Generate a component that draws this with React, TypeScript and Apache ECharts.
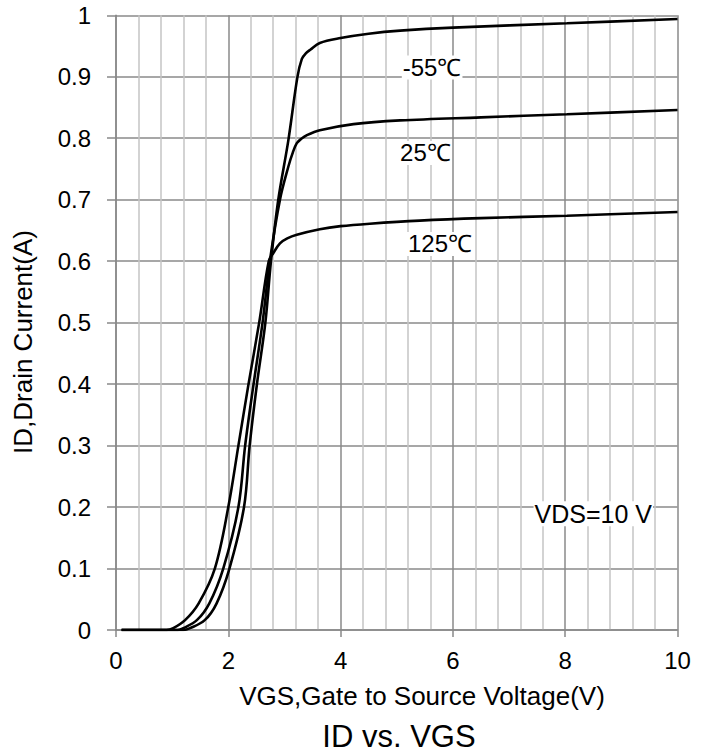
import { useEffect, useRef } from "react";
import * as echarts from "echarts";

// -55°C curve
const vgsM55 = [0.1, 1.2, 1.32, 1.58, 1.79, 2.02, 2.28, 2.38, 2.51, 2.66, 2.76, 2.89, 3.07, 3.23, 3.31, 3.38, 3.46, 3.63, 4.0, 4.5, 5.06, 6.0, 8.03, 10];
const idM55 = [0, 0, 0.003, 0.016, 0.043, 0.1, 0.2, 0.3, 0.4, 0.5, 0.6, 0.7, 0.797, 0.899, 0.929, 0.938, 0.944, 0.955, 0.963, 0.97, 0.975, 0.98, 0.987, 0.994];
// 25°C curve
const vgs25 = [0.1, 1.1, 1.2, 1.44, 1.66, 1.91, 2.18, 2.3, 2.45, 2.61, 2.74, 2.92, 3.07, 3.15, 3.22, 3.3, 3.4, 3.63, 4.23, 5.06, 6.5, 8.03, 10];
const id25 = [0, 0, 0.003, 0.016, 0.043, 0.1, 0.2, 0.3, 0.4, 0.5, 0.6, 0.7, 0.754, 0.777, 0.792, 0.799, 0.805, 0.813, 0.823, 0.829, 0.834, 0.839, 0.846];
// 125°C curve
const vgs125 = [0.1, 0.9, 1.02, 1.23, 1.47, 1.76, 2.0, 2.18, 2.36, 2.55, 2.72, 2.8, 2.92, 3.05, 3.22, 3.63, 4.0, 4.52, 5.41, 6.5, 8.03, 10];
const id125 = [0, 0, 0.003, 0.016, 0.043, 0.1, 0.2, 0.3, 0.4, 0.5, 0.6, 0.613, 0.629, 0.637, 0.643, 0.652, 0.657, 0.661, 0.666, 0.67, 0.674, 0.68];

const seriesNames = ["-55℃", "25℃", "125℃"];
const labelCoords = [
  [5.63, 0.915],
  [5.51, 0.776],
  [5.77, 0.628],
];
const noteText = "VDS=10 V";
const noteCoord = [8.5, 0.189];

const xTitle = "VGS,Gate to Source Voltage(V)";
const yTitle = "ID,Drain Current(A)";
const chartTitle = "ID vs. VGS";

const FONT = "'Liberation Sans', Arial, sans-serif";

const zip = (xs: number[], ys: number[]) => xs.map((x, i) => [x, ys[i]]);

export default function App() {
  const ref = useRef<HTMLDivElement>(null);
  useEffect(() => {
    if (!ref.current) return;
    const chart = echarts.init(ref.current, undefined, { renderer: "svg" });
    const curves = [zip(vgsM55, idM55), zip(vgs25, id25), zip(vgs125, id125)];
    const labelStyle = {
      show: true,
      position: "inside",
      color: "#000",
      fontSize: 24,
      fontFamily: FONT,
      backgroundColor: "#fff",
      padding: [0, 1],
    };
    const option: any = {
      animation: false,
      backgroundColor: "#fff",
      grid: { left: 116, right: 31.5, top: 15.3, bottom: 126 },
      xAxis: {
        type: "value",
        min: 0,
        max: 10,
        interval: 2,
        axisLine: { show: true, lineStyle: { color: "#888", width: 1.5 } },
        axisTick: { show: true, inside: false, length: 7, lineStyle: { color: "#888", width: 1.5 } },
        axisLabel: { color: "#000", fontSize: 24, fontFamily: FONT, margin: 18 },
        splitLine: { show: true, lineStyle: { color: "#8a8a8a", width: 1.5 } },
        minorTick: { show: false, splitNumber: 5 },
        minorSplitLine: { show: true, lineStyle: { color: "#c4c4c4", width: 1.5 } },
      },
      yAxis: {
        type: "value",
        min: 0,
        max: 1,
        interval: 0.1,
        axisLine: { show: true, lineStyle: { color: "#888", width: 1.5 } },
        axisTick: { show: true, inside: false, length: 9, lineStyle: { color: "#888", width: 1.5 } },
        axisLabel: {
          color: "#000",
          fontSize: 24,
          fontFamily: FONT,
          margin: 25,
          formatter: (v: number) => String(+v.toFixed(1)),
        },
        splitLine: { show: true, lineStyle: { color: "#8a8a8a", width: 1.5 } },
      },
      series: curves.map((d, i) => ({
        type: "line",
        name: seriesNames[i],
        data: d,
        showSymbol: false,
        smooth: 0.35,
        lineStyle: { color: "#000", width: 2.6 },
        z: 3,
        markPoint: {
          symbol: "circle",
          symbolSize: 0,
          silent: true,
          label: labelStyle,
          data:
            i === 2
              ? [
                  { name: seriesNames[i], coord: labelCoords[i], label: { formatter: seriesNames[i] } },
                  { name: noteText, coord: noteCoord, label: { formatter: noteText, fontSize: 25 } },
                ]
              : [{ name: seriesNames[i], coord: labelCoords[i], label: { formatter: seriesNames[i] } }],
        },
      })),
      graphic: [
        {
          type: "text",
          x: 422,
          y: 696,
          style: {
            text: xTitle,
            fill: "#000",
            font: `26px ${FONT}`,
            textAlign: "center",
            textVerticalAlign: "middle",
          },
        },
        {
          type: "text",
          x: 23,
          y: 342,
          rotation: Math.PI / 2,
          style: {
            text: yTitle,
            fill: "#000",
            font: `26px ${FONT}`,
            textAlign: "center",
            textVerticalAlign: "middle",
          },
        },
        {
          type: "text",
          x: 399,
          y: 736,
          style: {
            text: chartTitle,
            fill: "#000",
            font: `31px ${FONT}`,
            textAlign: "center",
            textVerticalAlign: "middle",
          },
        },
      ],
    };
    chart.setOption(option);
    return () => chart.dispose();
  }, []);
  return (
    <div
      ref={ref}
      style={{ position: "fixed", left: 0, top: 0, width: 709, height: 756, background: "#fff" }}
    />
  );
}
